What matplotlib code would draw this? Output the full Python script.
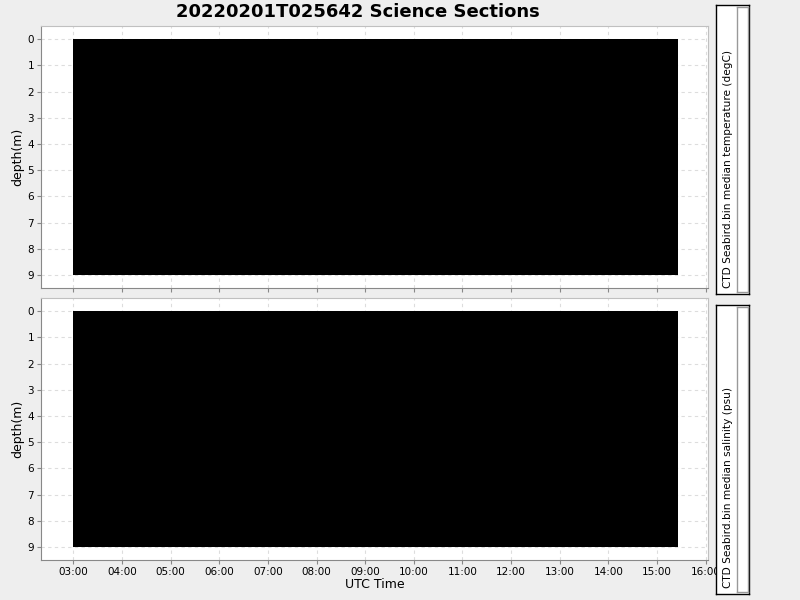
import numpy as np
import matplotlib
matplotlib.use("Agg")
import matplotlib.pyplot as plt
import matplotlib.dates as mdates
from datetime import datetime

title = "20220201T025642 Science Sections"
section_start = datetime(2022, 2, 1, 3, 0)
section_end = datetime(2022, 2, 1, 15, 26)
depth_top = 0
depth_bottom = 9
depth_ticks = list(range(0, 10))
xlim = (datetime(2022, 2, 1, 2, 20), datetime(2022, 2, 1, 16, 3))
panels = [
    "CTD Seabird.bin median temperature (degC)",
    "CTD Seabird.bin median salinity (psu)",
]

W, H = 800, 600
bg = "#eeeeee"
fig = plt.figure(figsize=(8, 6), dpi=100, facecolor=bg)


def px(l, t, r, b):
    return [l / W, 1 - b / H, (r - l) / W, (b - t) / H]


fig.text(358 / W, 1 - 12 / H, title, ha="center", va="center",
         fontsize=13, fontweight="bold")

ax_boxes = [(41, 26, 708, 288), (41, 298, 708, 560)]
cb_boxes = [(716, 5, 749, 294), (716, 305, 749, 594)]

for i, label in enumerate(panels):
    ax = fig.add_axes(px(*ax_boxes[i]))
    ax.set_facecolor("white")
    ax.fill_between([section_start, section_end], depth_top, depth_bottom,
                    color="black", linewidth=0, zorder=2)
    ax.set_xlim(xlim)
    ax.set_ylim(depth_bottom + 0.5, depth_top - 0.5)
    ax.set_yticks(depth_ticks)
    ax.xaxis.set_major_locator(mdates.HourLocator())
    ax.xaxis.set_major_formatter(mdates.DateFormatter("%H:%M"))
    ax.grid(True, color="#dddddd", linestyle=(0, (3, 3)), linewidth=0.8, zorder=1)
    ax.set_axisbelow(True)
    for side in ["top", "right"]:
        ax.spines[side].set_color("#c0c0c0")
    for side in ["left", "bottom"]:
        ax.spines[side].set_color("#888888")
    ax.tick_params(colors="#888888", labelcolor="black", labelsize=7.5,
                   length=3, width=0.8, pad=2)
    ax.set_ylabel("depth(m)", fontsize=9)
    ax.yaxis.set_label_coords(-0.0255, 0.5)
    if i == 0:
        ax.tick_params(axis="x", labelbottom=False)
    else:
        ax.set_xlabel("UTC Time", fontsize=9, labelpad=1)

    # empty colour scale box
    cl, ct, cr, cb = cb_boxes[i]
    cax = fig.add_axes(px(cl, ct, cr, cb))
    cax.set_facecolor("white")
    cax.set_xticks([])
    cax.set_yticks([])
    for s in cax.spines.values():
        s.set_color("black")
        s.set_linewidth(1)
    fig.text(728 / W, 1 - (cb - 6) / H, label, rotation=90, ha="center",
             va="bottom", fontsize=7.6)
    inner = fig.add_axes(px(737, ct + 2, 748, cb - 2))
    inner.set_facecolor("white")
    inner.set_xticks([])
    inner.set_yticks([])
    for s in inner.spines.values():
        s.set_color("#999999")
        s.set_linewidth(1)

fig.savefig("out.png", dpi=100, facecolor=bg)
